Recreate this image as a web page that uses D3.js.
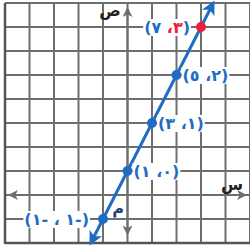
<!DOCTYPE html>
<html>
<head>
<meta charset="utf-8">
<script src="https://cdn.jsdelivr.net/npm/d3@7"></script>
<style>
  body { margin: 0; background: #fff; }
  svg { display: block; }
  .grid line { stroke: #6e6e6e; stroke-width: 2; }
  .lbl { font-family: "DejaVu Sans", sans-serif; font-weight: bold; font-size: 16px; }
</style>
</head>
<body>
<div id="chart"></div>
<script>
// points on the line y = 2x + 1
var pointX = [-1, 0, 1, 2, 3];
var pointY = [-1, 1, 3, 5, 7];
var pointLabels = ['(\u0661- \u060C \u0661-)', '(\u0661 \u060C\u0660)', '(\u0663 \u060C\u0661)', '(\u0665 \u060C\u0662)', '(\u0667 \u060C\u0663)'];
var highlight = [false, false, false, false, true];
var lineX = [-1.5, 3.5];
var gridX = d3.range(-5, 6);
var gridY = d3.range(-2, 9);

function main(domSelector) {
    var width = 250;
    var height = 249;

    var svg = d3.select(domSelector).append('svg')
        .attr('width', width)
        .attr('height', height);

    var x = d3.scaleLinear().domain([-5, 5]).range([5, 250]);
    var y = d3.scaleLinear().domain([-2, 8]).range([243, 3]);

    var defs = svg.append('defs');
    function arrow(id, color, size) {
        defs.append('marker')
            .attr('id', id)
            .attr('viewBox', '0 0 10 10')
            .attr('refX', 8).attr('refY', 5)
            .attr('markerWidth', size).attr('markerHeight', size)
            .attr('markerUnits', 'userSpaceOnUse')
            .attr('orient', 'auto-start-reverse')
            .append('path')
            .attr('d', 'M0,0 L10,5 L0,10 L2.5,5 Z')
            .attr('fill', color);
    }
    arrow('blueArrow', '#1f6cc2', 14);
    arrow('grayArrow', '#6e6e6e', 10);

    var grid = svg.append('g').attr('class', 'grid');
    grid.selectAll('line.v')
        .data(gridX)
        .enter().append('line')
        .attr('class', 'v')
        .attr('x1', function (d) { return x(d); }).attr('x2', function (d) { return x(d); })
        .attr('y1', y(8)).attr('y2', y(-2));
    grid.selectAll('line.h')
        .data(gridY)
        .enter().append('line')
        .attr('class', 'h')
        .attr('x1', x(-5)).attr('x2', x(5))
        .attr('y1', function (d) { return y(d); }).attr('y2', function (d) { return y(d); });

    // frame left / bottom
    svg.append('line')
        .attr('x1', x(-5)).attr('x2', x(-5)).attr('y1', y(8)).attr('y2', y(-2) + 1)
        .attr('stroke', '#555').attr('stroke-width', 2.5);
    svg.append('line')
        .attr('x1', x(-5)).attr('x2', x(5)).attr('y1', y(-2)).attr('y2', y(-2))
        .attr('stroke', '#555').attr('stroke-width', 2.5);

    // axes with arrows
    svg.append('line')
        .attr('x1', x(-4.8)).attr('x2', x(4.8))
        .attr('y1', y(0)).attr('y2', y(0))
        .attr('stroke', '#6e6e6e').attr('stroke-width', 2)
        .attr('marker-start', 'url(#grayArrow)')
        .attr('marker-end', 'url(#grayArrow)');
    svg.append('line')
        .attr('x1', x(0)).attr('x2', x(0))
        .attr('y1', y(-1.6)).attr('y2', y(7.75))
        .attr('stroke', '#6e6e6e').attr('stroke-width', 2)
        .attr('marker-start', 'url(#grayArrow)')
        .attr('marker-end', 'url(#grayArrow)');

    svg.append('text').attr('class', 'lbl')
        .attr('x', 110).attr('y', 16).attr('text-anchor', 'middle')
        .attr('font-size', 16).attr('fill', '#222')
        .text('\u0635');
    svg.append('text').attr('class', 'lbl')
        .attr('x', 232).attr('y', 190).attr('text-anchor', 'middle')
        .attr('font-size', 16).attr('fill', '#222')
        .text('\u0633');
    svg.append('text').attr('class', 'lbl')
        .attr('x', 118).attr('y', 214).attr('text-anchor', 'middle')
        .attr('font-size', 13).attr('fill', '#1f3f7a')
        .text('\u0645');

    // the line
    svg.append('line')
        .attr('x1', x(lineX[0])).attr('y1', y(2 * lineX[0] + 1))
        .attr('x2', x(lineX[1])).attr('y2', y(2 * lineX[1] + 1))
        .attr('stroke', '#1f6cc2').attr('stroke-width', 3)
        .attr('marker-start', 'url(#blueArrow)')
        .attr('marker-end', 'url(#blueArrow)');

    var pts = pointX.map(function (d, i) {
        return {x: d, y: pointY[i], label: pointLabels[i], hot: highlight[i]};
    });

    // labels with white background
    var labels = svg.selectAll('g.label')
        .data(pts)
        .enter().append('g')
        .attr('class', 'label');
    var texts = labels.append('text')
        .attr('class', 'lbl')
        .attr('direction', 'ltr')
        .style('unicode-bidi', 'bidi-override')
        .style('letter-spacing', '1.5px')
        .attr('x', function (d) { return d.x < 0 ? x(d.x) - 14 : x(d.x) + 6; })
        .attr('y', function (d) { return y(d.y) + 6; })
        .attr('text-anchor', function (d) { return d.x < 0 ? 'end' : 'start'; });
    texts.each(function (d) {
        var t = d3.select(this);
        if (d.hot) {
            t.attr('text-anchor', 'end').attr('x', x(d.x) - 11);
        }
        Array.from(d.label).forEach(function (ch) {
            var red = d.hot && (ch === '\u0663' || ch === '\u060C');
            t.append('tspan').attr('fill', red ? '#e8203a' : '#1f6cc2').text(ch);
        });
    });
    labels.each(function () {
        var b = d3.select(this).select('text').node().getBBox();
        d3.select(this).insert('rect', 'text')
            .attr('x', b.x - 1).attr('y', b.y + 1)
            .attr('width', b.width + 2).attr('height', b.height - 2)
            .attr('fill', '#fff');
    });

    svg.selectAll('circle')
        .data(pts)
        .enter().append('circle')
        .attr('cx', function (d) { return x(d.x); })
        .attr('cy', function (d) { return y(d.y); })
        .attr('r', 5)
        .attr('fill', function (d) { return d.hot ? '#e8203a' : '#1f6cc2'; });
}

main('#chart');
</script>
</body>
</html>
